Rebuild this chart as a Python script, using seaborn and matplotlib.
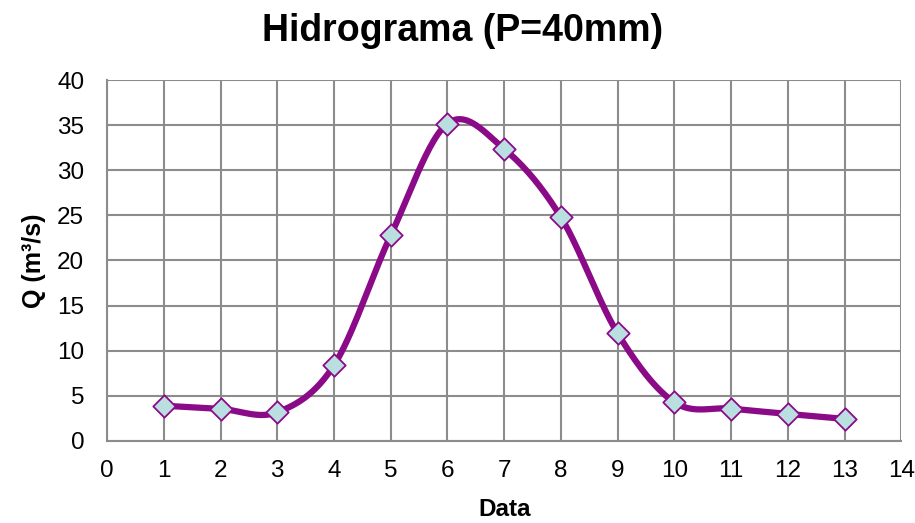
import numpy as np
import pandas as pd
import matplotlib
matplotlib.use("Agg")
import matplotlib.pyplot as plt
import seaborn as sns

dias = [1, 2, 3, 4, 5, 6, 7, 8, 9, 10, 11, 12, 13]
vazao = [3.9, 3.55, 3.17, 8.38, 22.77, 35.17, 32.36, 24.8, 11.92, 4.28, 3.58, 2.99, 2.44]
x_ticks = list(range(0, 15))
y_ticks = list(range(0, 45, 5))

sns.set_theme(style="white")
plt.rcParams['font.family'] = ['Liberation Sans', 'DejaVu Sans']
plt.rcParams['text.color'] = 'black'
plt.rcParams['axes.labelcolor'] = 'black'

def catmull_rom(x, y, n=30):
    x = np.asarray(x, float); y = np.asarray(y, float)
    px = np.concatenate([[x[0]], x, [x[-1]]])
    py = np.concatenate([[y[0]], y, [y[-1]]])
    xs, ys = [], []
    t = np.linspace(0, 1, n)
    for i in range(1, len(px) - 2):
        p0 = np.array([px[i], py[i]]); p1 = np.array([px[i+1], py[i+1]])
        c1 = p0 + (p1 - np.array([px[i-1], py[i-1]])) / 6.0
        c2 = p1 - (np.array([px[i+2], py[i+2]]) - p0) / 6.0
        b = ((1-t)**3)[:, None]*p0 + (3*(1-t)**2*t)[:, None]*c1 + (3*(1-t)*t**2)[:, None]*c2 + (t**3)[:, None]*p1
        xs.extend(b[:, 0]); ys.extend(b[:, 1])
    return np.array(xs), np.array(ys)

fig, ax = plt.subplots(figsize=(9.15, 5.23), dpi=100)
fig.subplots_adjust(left=0.117, right=0.985, top=0.847, bottom=0.157)

sx, sy = catmull_rom(dias, vazao)
smooth = pd.DataFrame({"x": sx, "y": sy})
sns.lineplot(data=smooth, x="x", y="y", ax=ax, color="#8B0A87", linewidth=4.5, sort=False, estimator=None, zorder=3)
pts = pd.DataFrame({"Data": dias, "Q": vazao})
sns.scatterplot(data=pts, x="Data", y="Q", ax=ax, marker="D", s=130, color="#B9DFE1",
                edgecolor="#8B0A87", linewidth=1.3, zorder=4)

ax.set_xlim(0, 14)
ax.set_ylim(0, 40)
ax.set_xticks(x_ticks)
ax.set_yticks(y_ticks)
ax.grid(True, color="#8C8C8C", linewidth=1.5)
ax.set_axisbelow(True)
for s in ["top", "right"]:
    ax.spines[s].set_visible(False)
for s in ["left", "bottom"]:
    ax.spines[s].set_color("#8C8C8C")
    ax.spines[s].set_linewidth(1.5)
ax.tick_params(axis="both", labelsize=17.5, labelcolor="black", color="#8C8C8C",
               length=5.5, width=1.2, direction="out")
ax.tick_params(axis="y", pad=11)
ax.tick_params(axis="x", pad=8)
ax.set_xlabel("Data", fontsize=17.5, fontweight="bold", labelpad=12, color="black")
ax.set_ylabel("Q (m³/s)", fontsize=18, fontweight="bold", labelpad=8, color="black")
fig.suptitle("Hidrograma (P=40mm)", x=0.505, y=0.975, fontsize=27, fontweight="bold", color="black")

fig.savefig("out.png", dpi=100, facecolor="white")
